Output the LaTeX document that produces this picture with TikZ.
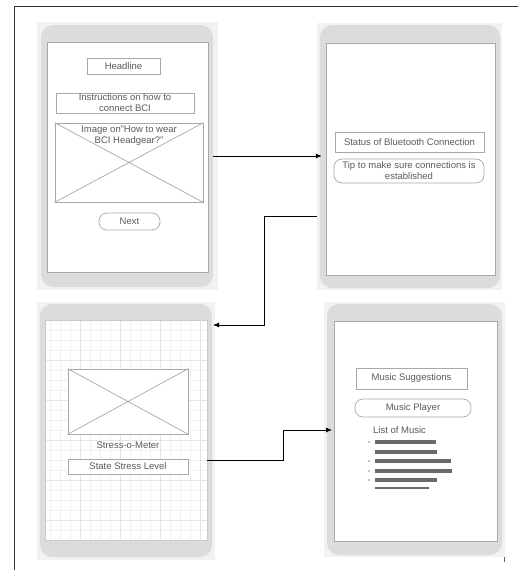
\documentclass[tikz,border=0pt]{standalone}
\usepackage{fontspec}
\setmainfont{Liberation Sans}
\usetikzlibrary{arrows.meta}
\definecolor{txt}{HTML}{5A5A5A}
\definecolor{bodyc}{HTML}{DCDCDC}
\definecolor{outerc}{HTML}{F2F2F2}
\definecolor{edgec}{HTML}{A8A8A8}
\definecolor{barc}{HTML}{6A6A6A}
\definecolor{gridc}{HTML}{F1F1F1}
\definecolor{gridm}{HTML}{E6E6E6}
\begin{document}
\begin{tikzpicture}[x=1pt,y=-1pt,
  every node/.style={font=\fontsize{9.5}{11}\selectfont, text=txt},
  outerbox/.style={fill=outerc, draw=none, inner sep=0pt},
  body/.style={fill=bodyc, draw=none, rounded corners=12pt, inner sep=0pt},
  screen/.style={fill=white, draw=edgec, line width=0.7pt, inner sep=0pt},
  wbox/.style={draw=edgec, fill=white, line width=0.7pt, align=center, inner sep=0pt},
  pill/.style={wbox, rounded corners=8pt},
  xline/.style={draw=edgec, line width=0.7pt},
  bar/.style={fill=barc},
  arrow/.style={-{Latex[length=6pt,width=5pt]}, line width=0.8pt, black}]
\useasboundingbox (0,0) rectangle (518,570);
\fill[white] (0,0) rectangle (518,570);
% outer frame
\draw[line width=1pt, black!80] (14,570) -- (14,6.5) -- (518,6.5);
\draw[line width=1pt, black!60] (504,550) -- (504,562);

% ---------- phone 1 ----------
\node[outerbox, minimum width=181pt, minimum height=268pt] (o1) at (127.5,156) {};
\node[body, minimum width=172pt, minimum height=262pt] (p1) at (127,156) {};
\node[screen, minimum width=161pt, minimum height=230pt] (s1) at (127.5,157) {};
\node[wbox, minimum width=73pt, minimum height=16pt] (head) at (123.5,66) {Headline};
\node[wbox, minimum width=138pt, minimum height=20pt] (instr) at (125,103) {Instructions on how to\\connect BCI};
\node[wbox, minimum width=148pt, minimum height=79pt] (img1) at (129,162.5) {};
\draw[xline] (img1.north west) -- (img1.south east) (img1.north east) -- (img1.south west);
\node[align=center, anchor=north] (img1t) at (129,122.5) {Image on"How to wear\\BCI Headgear?"};
\node[pill, minimum width=61pt, minimum height=17pt] (next) at (129.5,221.5) {Next};

% ---------- phone 2 ----------
\node[outerbox, minimum width=185pt, minimum height=267pt] (o2) at (409.5,156.5) {};
\node[body, minimum width=180pt, minimum height=263pt] (p2) at (410,156.5) {};
\node[screen, minimum width=169pt, minimum height=232pt] (s2) at (410.5,159) {};
\node[wbox, minimum width=149pt, minimum height=20pt] (status) at (409.5,142) {Status of Bluetooth Connection};
\node[pill, minimum width=150pt, minimum height=24pt] (tip) at (409,171) {Tip to make sure connections is\\established};

% ---------- phone 3 ----------
\node[outerbox, minimum width=178pt, minimum height=258pt] (o3) at (126,431) {};
\node[body, minimum width=172pt, minimum height=253pt] (p3) at (126,430.5) {};
\node[fill=white, draw=none, inner sep=0pt, minimum width=162pt, minimum height=220pt] (s3) at (126,430) {};
\begin{scope}
\clip (s3.south west) rectangle (s3.north east);
\draw[gridc, line width=0.4pt, step=10pt] (s3.south west) grid (s3.north east);
\draw[gridm, line width=0.4pt, step=40pt] (s3.south west) grid (s3.north east);
\end{scope}
\draw[edgec!60, line width=0.6pt] (s3.south west) rectangle (s3.north east);
\node[wbox, minimum width=120pt, minimum height=65pt] (img3) at (128,401.5) {};
\draw[xline] (img3.north west) -- (img3.south east) (img3.north east) -- (img3.south west);
\node (meter) at (128,445) {Stress-o-Meter};
\node[wbox, minimum width=120pt, minimum height=15pt] (state) at (128,466.5) {State Stress Level};

% ---------- phone 4 ----------
\node[outerbox, minimum width=181pt, minimum height=255pt] (o4) at (414.5,429.5) {};
\node[body, minimum width=175pt, minimum height=251pt] (p4) at (414.5,429.5) {};
\node[screen, minimum width=163pt, minimum height=220pt] (s4) at (415.5,431) {};
\node[wbox, minimum width=111pt, minimum height=21pt] (sugg) at (411.5,378.5) {Music Suggestions};
\node[pill, minimum width=116pt, minimum height=18pt] (player) at (413,408) {Music Player};
\node[anchor=west, inner sep=0pt] (list) at (373,430) {List of Music};
\foreach \y in {442,461,471,480} {\fill[barc!80] (369,\y) circle (0.9pt);}
\fill[bar] (375,440) rectangle (436,444);
\fill[bar] (375,450) rectangle (437,454);
\fill[bar] (375,459) rectangle (451,463);
\fill[bar] (375,469) rectangle (452,473);
\fill[bar] (375,478) rectangle (437,482);
\fill[bar] (375,487.2) rectangle (429,489.2);

% ---------- connectors ----------
\coordinate (a1e) at ([xshift=2pt]p2.west |- p1.east);
\draw[arrow] (p1.east) -- (a1e);
\coordinate (a2s) at (317,216);
\coordinate (a2b) at (264,325);
\coordinate (a2e) at (213,325);
\draw[arrow] (a2s) -| (a2b) -- (a2e);
\coordinate (a3s) at (207,460);
\coordinate (a3b) at (283,430);
\coordinate (a3e) at (332,430);
\draw[arrow] (a3s) -| (a3b) -- (a3e);
\end{tikzpicture}
\end{document}
